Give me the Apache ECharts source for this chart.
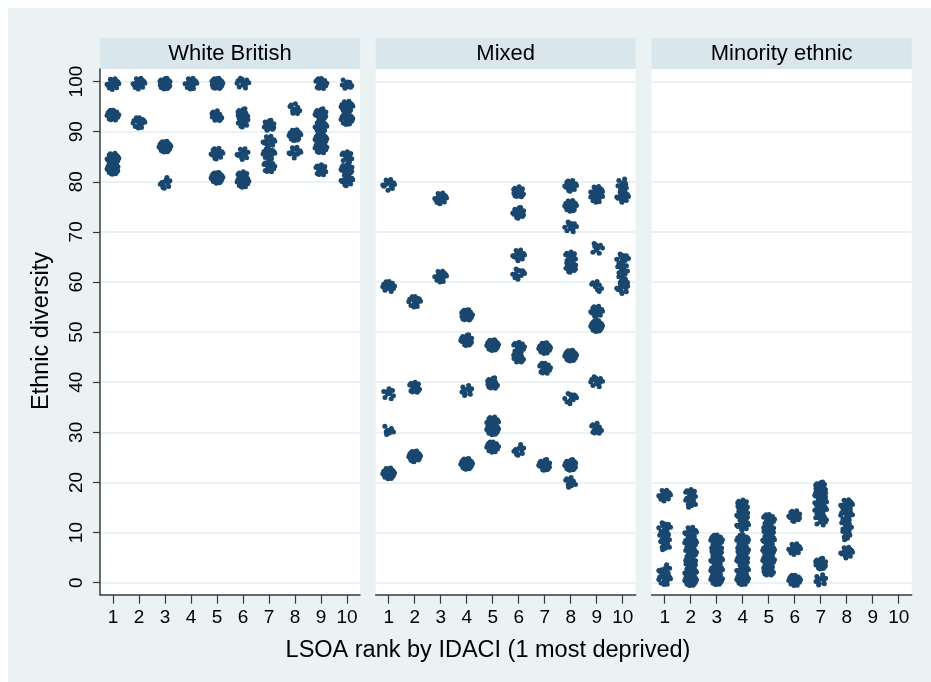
<!DOCTYPE html>
<html>
<head>
<meta charset="utf-8">
<script src="https://cdn.jsdelivr.net/npm/echarts@6/dist/echarts.min.js"></script>
<style>
  html, body { margin: 0; padding: 0; background: #fff; }
  #chart { width: 931px; height: 682px; }
</style>
</head>
<body>
<div id="chart"></div>
<script>
// panels and axis ticks
const panels = ['White British', 'Mixed', 'Minority ethnic'];
const rankTicks = [1, 2, 3, 4, 5, 6, 7, 8, 9, 10];
const diversityTicks = [0, 10, 20, 30, 40, 50, 60, 70, 80, 90, 100];

// clusters of LSOAs: [IDACI rank, ethnic diversity, number of points]
const whiteBritish = [
  [1, 99.5, 18], [1, 93.3, 20], [1, 82.6, 26], [1, 84.6, 26],
  [2, 99.6, 18], [2, 91.8, 16],
  [3, 99.6, 26], [3, 87.0, 30], [3, 79.8, 12],
  [4, 99.6, 16],
  [5, 99.6, 26], [5, 93.2, 16], [5, 85.6, 20], [5, 80.8, 24],
  [6, 99.7, 12], [6, 93.5, 20], [6, 92.0, 16], [6, 85.5, 12], [6, 80.0, 24], [6, 81.0, 16],
  [7, 91.2, 16], [7, 88.0, 16], [7, 85.6, 16], [7, 83.0, 16],
  [8, 94.6, 12], [8, 89.3, 26], [8, 85.8, 12],
  [9, 99.6, 22], [9, 93.5, 24], [9, 91.0, 26], [9, 88.5, 26], [9, 86.8, 24], [9, 82.4, 16],
  [10, 99.6, 12], [10, 95.0, 22], [10, 92.5, 22], [10, 85.0, 14], [10, 82.5, 20], [10, 80.3, 16]
];
const mixed = [
  [1, 79.4, 12], [1, 59.1, 16], [1, 37.7, 9], [1, 30.5, 9], [1, 21.8, 24],
  [2, 56.1, 16], [2, 39.0, 20], [2, 25.2, 28],
  [3, 76.7, 22], [3, 61.1, 16],
  [4, 53.4, 24], [4, 48.4, 22], [4, 38.3, 12], [4, 23.7, 28],
  [5, 47.4, 30], [5, 39.8, 20], [5, 32.0, 24], [5, 30.6, 24], [5, 27.1, 20],
  [6, 78.0, 20], [6, 73.8, 20], [6, 65.3, 16], [6, 61.6, 12], [6, 47.0, 16], [6, 45.0, 16], [6, 26.5, 12],
  [7, 46.8, 20], [7, 42.8, 20], [7, 23.5, 24],
  [8, 79.2, 20], [8, 75.2, 20], [8, 71.0, 12], [8, 65.0, 16], [8, 63.0, 16], [8, 45.3, 30], [8, 36.8, 12], [8, 23.5, 28], [8, 20.0, 12],
  [9, 78.0, 20], [9, 77.0, 16], [9, 66.7, 9], [9, 59.1, 9], [9, 54.1, 20], [9, 51.2, 26], [9, 40.1, 12], [9, 30.8, 16],
  [10, 79.5, 12], [10, 77.0, 16], [10, 64.6, 12], [10, 62.6, 12], [10, 60.3, 12], [10, 58.8, 12]
];
const minorityEthnic = [
  [1, 17.4, 16], [1, 11.0, 12], [1, 9.0, 16], [1, 7.5, 9], [1, 2.5, 12], [1, 0.7, 16],
  [2, 17.6, 16], [2, 16.0, 12], [2, 10.0, 16], [2, 8.0, 20], [2, 6.0, 20], [2, 4.0, 20], [2, 2.0, 22], [2, 0.5, 26],
  [3, 8.5, 20], [3, 6.5, 22], [3, 4.5, 22], [3, 2.5, 22], [3, 0.7, 26],
  [4, 15.5, 20], [4, 13.5, 20], [4, 11.5, 16], [4, 8.5, 20], [4, 6.5, 22], [4, 4.5, 22], [4, 2.5, 22], [4, 0.7, 26],
  [5, 12.6, 20], [5, 10.5, 20], [5, 8.5, 22], [5, 6.5, 22], [5, 4.5, 22], [5, 2.5, 20],
  [6, 13.3, 20], [6, 6.7, 20], [6, 0.5, 20],
  [7, 19.0, 22], [7, 17.5, 22], [7, 16.0, 20], [7, 14.5, 16], [7, 12.5, 12], [7, 3.8, 20], [7, 0.5, 12],
  [8, 15.5, 16], [8, 13.5, 12], [8, 11.5, 12], [8, 9.5, 9], [8, 6.0, 16]
];

// fixed jitter pattern (unit offsets inside a rough disc), like stata's jitter() display option
const JITTER = [
  [0.04, 0.28], [0.58, -0.66], [-0.76, -0.25], [0.31, 0.97], [-0.5, 0.06], [0.79, 0.36], [-0.12, -0.98], [0.22, 0.58],
  [-0.95, -0.05], [0.4, -0.27], [-0.42, 0.88], [0.93, 0.07], [-0.14, 0.67], [-0.05, -0.35], [0.6, 0.57], [-0.6, -0.7],
  [0.15, 0.05], [-0.31, 0.36], [0.4, -0.9], [-0.8, 0.4], [0.06, 0.9], [0.76, -0.38], [-0.2, -0.06], [0.12, -0.58],
  [-0.62, 0.66], [0.42, 0.25], [-0.33, -0.86], [0.5, -0.04], [-0.4, -0.37], [-0.22, -0.6]
];
const JX = 0.24, JY = 1.1;

function spread(clusters) {
  const pts = [];
  clusters.forEach((c, ci) => {
    for (let k = 0; k < c[2]; k++) {
      const j = JITTER[(ci * 7 + k) % JITTER.length];
      pts.push([c[0] + j[0] * JX, c[1] + j[1] * JY]);
    }
  });
  return pts;
}

const FONT = 'Liberation Sans, Arial, sans-serif';
const BG = '#eaf2f3';
const STRIP = '#d9e6eb';
const NAVY = '#1a476f';
const AXIS = '#3a3a3a';

const gridLeft = [100, 375.7, 651.7];
const gridTop = 69, gridH = 525.7, gridW = 260;

const chart = echarts.init(document.getElementById('chart'), null, { renderer: 'canvas' });

const graphic = [
  { type: 'rect', z: -10, shape: { x: 8, y: 8, width: 923, height: 674 }, style: { fill: BG } },
  {
    type: 'text', x: 488, y: 651,
    style: { text: 'LSOA rank by IDACI (1 most deprived)', font: '23.5px ' + FONT, fill: '#000',
      textAlign: 'center', textVerticalAlign: 'middle', align: 'center', verticalAlign: 'middle' }
  },
  {
    type: 'text', x: 42, y: 331, rotation: Math.PI / 2,
    style: { text: 'Ethnic diversity', font: '23.5px ' + FONT, fill: '#000',
      textAlign: 'center', textVerticalAlign: 'middle', align: 'center', verticalAlign: 'middle' }
  }
];
panels.forEach((name, i) => {
  graphic.push({ type: 'rect', z: -5, shape: { x: gridLeft[i], y: 38, width: gridW, height: 31 }, style: { fill: STRIP } });
  graphic.push({
    type: 'text', x: gridLeft[i] + gridW / 2, y: 53.5,
    style: { text: name, font: '22px ' + FONT, fill: '#000',
      textAlign: 'center', textVerticalAlign: 'middle', align: 'center', verticalAlign: 'middle' }
  });
});

const grid = [], xAxis = [], yAxis = [], series = [];
[whiteBritish, mixed, minorityEthnic].forEach((clusters, i) => {
  grid.push({ left: gridLeft[i], top: gridTop, width: gridW, height: gridH, show: true, backgroundColor: '#fff', borderWidth: 0 });
  xAxis.push({
    type: 'value', gridIndex: i, min: 0.5, max: 10.5,
    axisLine: { show: true, onZero: false, lineStyle: { color: AXIS, width: 1.5 } },
    axisTick: { show: true, customValues: rankTicks, length: 9, lineStyle: { color: AXIS, width: 1.2 } },
    axisLabel: { customValues: rankTicks, margin: 14, fontSize: 19, fontFamily: FONT, color: '#000' },
    splitLine: { show: false }
  });
  yAxis.push({
    type: 'value', gridIndex: i, min: -2.4, max: 102.5,
    axisLine: { show: i === 0, lineStyle: { color: AXIS, width: 1.5 } },
    axisTick: { show: i === 0, customValues: diversityTicks, length: 7, lineStyle: { color: AXIS, width: 1.2 } },
    axisLabel: { show: i === 0, customValues: diversityTicks, rotate: 90, margin: 14, fontSize: 19, fontFamily: FONT, color: '#000' },
    splitLine: { show: true, lineStyle: { color: BG, width: 2 } }
  });
  series.push({
    type: 'scatter', xAxisIndex: i, yAxisIndex: i, clip: false,
    symbol: 'circle', symbolSize: 5,
    itemStyle: { color: NAVY, opacity: 1 },
    data: spread(clusters)
  });
});

chart.setOption({
  backgroundColor: '#fff',
  animation: false,
  graphic: graphic,
  grid: grid,
  xAxis: xAxis,
  yAxis: yAxis,
  series: series
});
</script>
</body>
</html>
